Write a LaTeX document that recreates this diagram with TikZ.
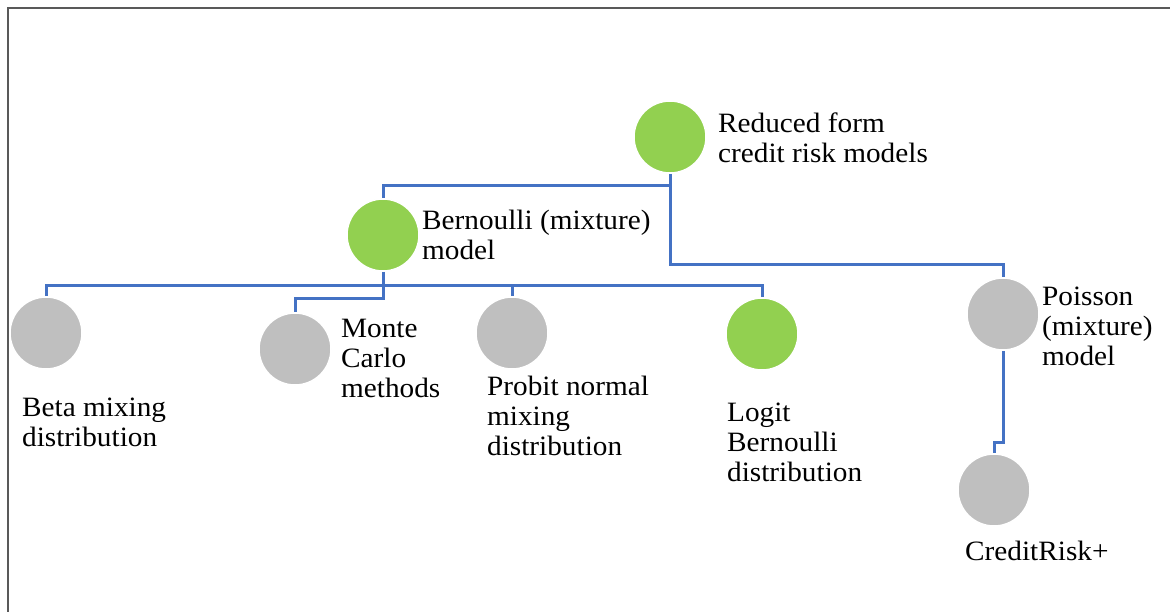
\documentclass[tikz,border=0pt]{standalone}
\usepackage{fontspec}
\setmainfont[FakeStretch=1.045]{Liberation Serif}
\usetikzlibrary{backgrounds}
\definecolor{cgreen}{HTML}{92D050}
\definecolor{cgray}{HTML}{BFBFBF}
\definecolor{cblue}{HTML}{4472C4}
\definecolor{cframe}{HTML}{595959}
\newcommand{\lines}[1]{\begin{tabular}[t]{@{}l@{}}#1\end{tabular}}
\begin{document}
\begin{tikzpicture}[x=1pt,y=-1pt,
  dot/.style={circle,minimum size=72pt,inner sep=0pt,draw=white,line width=1.5pt},
  gdot/.style={dot,fill=cgreen},
  ydot/.style={dot,fill=cgray},
  lbl/.style={anchor=base west,inner sep=0pt,font=\fontsize{28}{30}\selectfont},
  conn/.style={draw=cblue,line width=3pt}]
\useasboundingbox (0,0) rectangle (1170,611);
\draw[cframe,line width=1.5pt] (8,612) -- (8,8) -- (1171,8);

\node[gdot] (red) at (670,137) {};
\node[gdot] (bern) at (383,235) {};
\node[ydot] (beta) at (46,333) {};
\node[ydot] (monte) at (295,349) {};
\node[ydot] (probit) at (512,333) {};
\node[gdot] (logit) at (762,334) {};
\node[ydot] (poi) at (1003,314) {};
\node[ydot] (credit) at (994,490) {};

\node[lbl] (tred) at (718,132) {\lines{Reduced form\\credit risk models}};
\node[lbl] (tbern) at (422,229) {\lines{Bernoulli (mixture)\\model}};
\node[lbl] (tbeta) at (22,416) {\lines{Beta mixing\\distribution}};
\node[lbl] (tmonte) at (341,337) {\lines{Monte\\Carlo\\methods}};
\node[lbl] (tprobit) at (487,395) {\lines{Probit normal\\mixing\\distribution}};
\node[lbl] (tlogit) at (727,421) {\lines{Logit\\Bernoulli\\distribution}};
\node[lbl] (tpoi) at (1042,305) {\lines{Poisson\\(mixture)\\model}};
\node[lbl] (tcredit) at (965,560) {\lines{CreditRisk+}};

\begin{scope}[on background layer]
\draw[conn] (red.south) -- ++(0,12) -| (bern.north);
\draw[conn] (red.south) -- ++(0,91) -| (poi.north);
\draw[conn] (bern.south) -- ++(0,14) -| (beta.north);
\draw[conn] (bern.south) -- ++(0,27) -| (monte.north);
\draw[conn] (bern.south) -- ++(0,14) -| (probit.north);
\draw[conn] (bern.south) -- ++(0,14) -| (logit.north);
\draw[conn] (poi.south) -- ++(0,92) -| (credit.north);
\end{scope}
\end{tikzpicture}
\end{document}
